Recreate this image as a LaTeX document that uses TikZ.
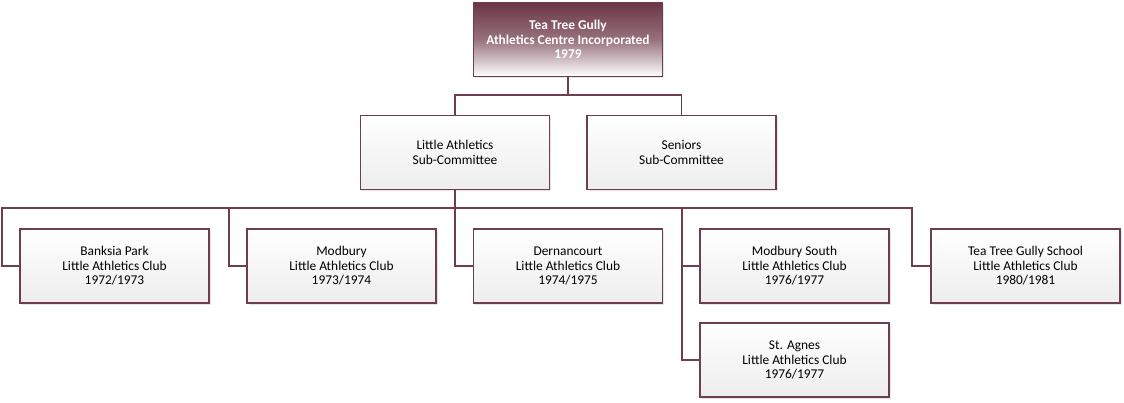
\documentclass[tikz,border=0pt]{standalone}
\usepackage{fontspec}
\setmainfont{Carlito}
\usetikzlibrary{shadows}
\definecolor{maroon}{HTML}{6E3E4C}
\definecolor{topdark}{HTML}{6A3545}
\tikzset{
  box/.style={draw=maroon, line width=1.6pt, minimum width=189pt, minimum height=74pt,
    top color=white, bottom color=black!7, align=center, font=\fontsize{13.4}{14.6}\selectfont,
    drop shadow={shadow xshift=1.5pt, shadow yshift=-1.5pt, opacity=0.2}},
  topbox/.style={box, top color=topdark, bottom color=white, middle color=topdark!70,
    text=white, font=\bfseries\fontsize{13.4}{14.6}\selectfont},
  conn/.style={draw=maroon, line width=1.6pt}
}
\begin{document}
\begin{tikzpicture}[x=1pt,y=-1pt]
\useasboundingbox (0,0) rectangle (1124,402);
\node[topbox] (top) at (568,39.5) {Tea Tree Gully\\Athletics Centre Incorporated\\1979};
\node[box] (la) at (455,152.5) {Little Athletics\\Sub-Committee};
\node[box] (sen) at (681.5,152.5) {Seniors\\Sub-Committee};
\node[box] (bp) at (114.5,266) {Banksia Park\\Little Athletics Club\\1972/1973};
\node[box] (mod) at (341.5,266) {Modbury\\Little Athletics Club\\1973/1974};
\node[box] (der) at (568,266) {Dernancourt\\Little Athletics Club\\1974/1975};
\node[box] (ms) at (794.5,266) {Modbury South\\Little Athletics Club\\1976/1977};
\node[box] (stag) at (794.5,360) {St. Agnes\\Little Athletics Club\\1976/1977};
\node[box] (ttgs) at (1025.5,266) {Tea Tree Gully School\\Little Athletics Club\\1980/1981};
\coordinate (j1) at (568,95);
\coordinate (j2) at (455,208);
\draw[conn] (top.south) -- (j1) -| (la.north);
\draw[conn] (j1) -| (sen.north);
\draw[conn] (la.south) -- (j2) -| (2,266) -- (bp.west);
\draw[conn] (j2) -| (229,266) -- (mod.west);
\draw[conn] (j2) |- (der.west);
\draw[conn] (j2) -| (682,266) -- (ms.west);
\draw[conn] (682,266) |- (stag.west);
\draw[conn] (j2) -| (912,266) -- (ttgs.west);
\end{tikzpicture}
\end{document}
